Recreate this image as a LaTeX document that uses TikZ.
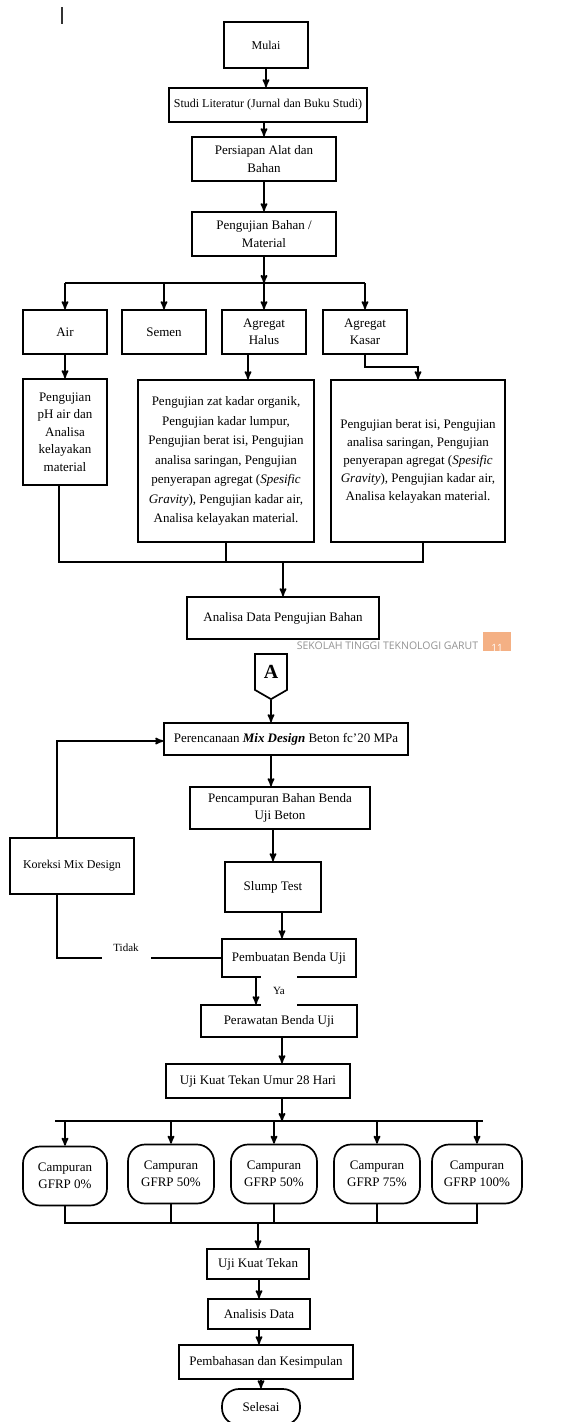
\documentclass[tikz,border=0pt]{standalone}
\usepackage{fontspec}
\setmainfont{Liberation Serif}
\newfontfamily\footfont{Open Sans}
\usepackage{tikz}
\usetikzlibrary{arrows,shapes.symbols}
\definecolor{pageorange}{RGB}{244,176,132}

\begin{document}
\begin{tikzpicture}[>=stealth',x=1pt,y=-1pt,line width=1.7pt,
    main node/.style={rectangle,draw,align=center,inner sep=2pt,
                      font=\fontsize{13}{17.5}\selectfont},
    round node/.style={main node,rounded corners=17pt},
    mix node/.style={round node,minimum width=86,minimum height=59},
    note/.style={fill=white,inner sep=0pt,font=\fontsize{11}{13}\selectfont}]

  \useasboundingbox (0,0) rectangle (571,1422);
  \draw[line width=1.5pt,black!80] (62,7) -- (62,24);

  % bahan
  \node[main node,minimum width=84,minimum height=46,font=\fontsize{12}{14}\selectfont] (1) at (266,45) {Mulai};
  \node[main node,minimum width=198,minimum height=34,font=\fontsize{12}{14}\selectfont] (2) at (268,105) {Studi Literatur (Jurnal dan Buku Studi)};
  \node[main node,minimum width=144,minimum height=44] (3) at (264,159) {Persiapan Alat dan\\Bahan};
  \node[main node,minimum width=144,minimum height=44] (4) at (264,234) {Pengujian Bahan /\\Material};

  \node[main node,minimum width=84,minimum height=44] (5) at (65,332) {Air};
  \node[main node,minimum width=84,minimum height=44] (6) at (164,332) {Semen};
  \node[main node,minimum width=84,minimum height=44] (7) at (264,332) {Agregat\\Halus};
  \node[main node,minimum width=84,minimum height=44] (8) at (365,332) {Agregat\\Kasar};

  \node[main node,minimum width=84,minimum height=106] (9) at (65,432) {Pengujian\\pH air dan\\Analisa\\kelayakan\\material};
  \node[main node,minimum width=176,minimum height=162,font=\fontsize{13}{19.5}\selectfont] (10) at (226,461)
    {Pengujian zat kadar organik,\\Pengujian kadar lumpur,\\Pengujian berat isi, Pengujian\\analisa saringan, Pengujian\\penyerapan agregat (\textit{Spesific}\\\textit{Gravity}), Pengujian kadar air,\\Analisa kelayakan material.};
  \node[main node,minimum width=174,minimum height=162,font=\fontsize{13}{18}\selectfont] (11) at (418,461)
    {Pengujian berat isi, Pengujian\\analisa saringan, Pengujian\\penyerapan agregat (\textit{Spesific}\\\textit{Gravity}), Pengujian kadar air,\\Analisa kelayakan material.};

  \node[main node,minimum width=192,minimum height=42] (12) at (283,618) {Analisa Data Pengujian Bahan};

  % footer halaman
  \node[inner sep=0pt,anchor=west,text=gray!85,font=\footfont\fontsize{10.5}{12}\selectfont] (foot) at (296,646) {SEKOLAH TINGGI TEKNOLOGI GARUT};
  \begin{scope}
    \clip (483,632) rectangle (511,651);
    \fill[pageorange] (483,632) rectangle (511,651);
    \node[text=white,font=\footfont\fontsize{10}{12}\selectfont] (page) at (497,648) {11};
  \end{scope}

  % beton
  \node[draw,signal,signal to=south,signal from=nowhere,signal pointer angle=120,
        minimum width=32,minimum height=40,inner sep=0pt,
        font=\bfseries\fontsize{20}{20}\selectfont] (13) at (271,672) {A};
  \node[main node,minimum width=244,minimum height=32] (14) at (286,739) {Perencanaan \textbf{\textit{Mix Design}} Beton fc’20 MPa};
  \node[main node,minimum width=180,minimum height=42] (15) at (280,808) {Pencampuran Bahan Benda\\Uji Beton};
  \node[main node,minimum width=96,minimum height=50] (16) at (273,887) {Slump Test};
  \node[main node,minimum width=134,minimum height=38] (17) at (289,958) {Pembuatan Benda Uji};
  \node[main node,minimum width=124,minimum height=56,font=\fontsize{12}{14}\selectfont] (18) at (72,866) {Koreksi Mix Design};
  \node[main node,minimum width=156,minimum height=32] (19) at (279,1021) {Perawatan Benda Uji};
  \node[main node,minimum width=184,minimum height=34] (20) at (258,1081) {Uji Kuat Tekan Umur 28 Hari};

  \node[mix node,minimum width=84] (21) at (65,1176) {Campuran\\GFRP 0\%};
  \node[mix node] (22) at (171,1174) {Campuran\\GFRP 50\%};
  \node[mix node] (23) at (274,1174) {Campuran\\GFRP 50\%};
  \node[mix node] (24) at (377,1174) {Campuran\\GFRP 75\%};
  \node[mix node,minimum width=90] (25) at (477,1174) {Campuran\\GFRP 100\%};

  \node[main node,minimum width=102,minimum height=30] (26) at (258,1264) {Uji Kuat Tekan};
  \node[main node,minimum width=102,minimum height=30] (27) at (259,1314) {Analisis Data};
  \node[main node,minimum width=174,minimum height=34] (28) at (266,1362) {Pembahasan dan Kesimpulan};
  \node[round node,minimum width=78,minimum height=36] (29) at (261,1407) {Selesai};

  % panah bagian bahan
  \path[->] (1) edge (1 |- 2.north)
            (3.north |- 2.south) edge (3.north)
            (3) edge (4);
  \coordinate (b4) at (264,283);
  \draw[->] (4) -- (b4);
  \draw (5 |- b4) -- (8 |- b4);
  \path[->] (5 |- b4) edge (5)
            (6 |- b4) edge (6)
            (7 |- b4) edge (7)
            (8 |- b4) edge (8);
  \path[->] (5) edge (9)
            ([xshift=-16]7.south) edge ([xshift=-16]7.south |- 10.north);
  \draw[->] (8.south) -- ++(0,12) -| (11.north);
  \coordinate (m1) at (283,562);
  \draw ([xshift=-6]9.south) |- ([xshift=5]11.south |- m1) -- ([xshift=5]11.south);
  \draw (10.south) -- (10.south |- m1);
  \draw[->] (m1) -- (12);

  % panah bagian beton
  \path[->] (13.south) edge (13.south |- 14.north);
  \draw[->] ([xshift=-15]18.north) |- ([yshift=-2]14.west);
  \path[->] ([xshift=-15]14.south) edge ([xshift=-15]14.south |- 15.north)
            (16.north |- 15.south) edge (16.north)
            ([xshift=9]16.south) edge ([xshift=9]16.south |- 17.north)
            ([xshift=-33]17.south) edge ([xshift=-33]17.south |- 19.north)
            ([xshift=3]19.south) edge ([xshift=3]19.south |- 20.north);
  \draw (17) -| ([xshift=-15]18.south);
  \node[note,minimum width=49,minimum height=26] (tidak) at (126,948) {Tidak};
  \node[note,minimum width=36,minimum height=32] (ya) at (279,991) {Ya};

  \coordinate (b20) at (282,1121);
  \draw[->] ([xshift=24]20.south) -- (b20);
  \draw ([xshift=-10]21.north |- b20) -- ([xshift=6]25.north |- b20);
  \path[->] (21 |- b20) edge (21)
            (22 |- b20) edge (22)
            (23 |- b20) edge (23)
            (24 |- b20) edge (24)
            (25 |- b20) edge (25);
  \coordinate (m2) at (256,1223);
  \draw (21) |- (25 |- m2) -- (25);
  \draw (22) -- (22 |- m2);
  \draw (23) -- (23 |- m2);
  \draw (24) -- (24 |- m2);
  \draw[->] (26.north |- m2) -- (26);
  \path[->] (27.north |- 26.south) edge (27.north)
            (27) edge (27 |- 28.north)
            (29.north |- 28.south) edge (29);
\end{tikzpicture}
\end{document}
